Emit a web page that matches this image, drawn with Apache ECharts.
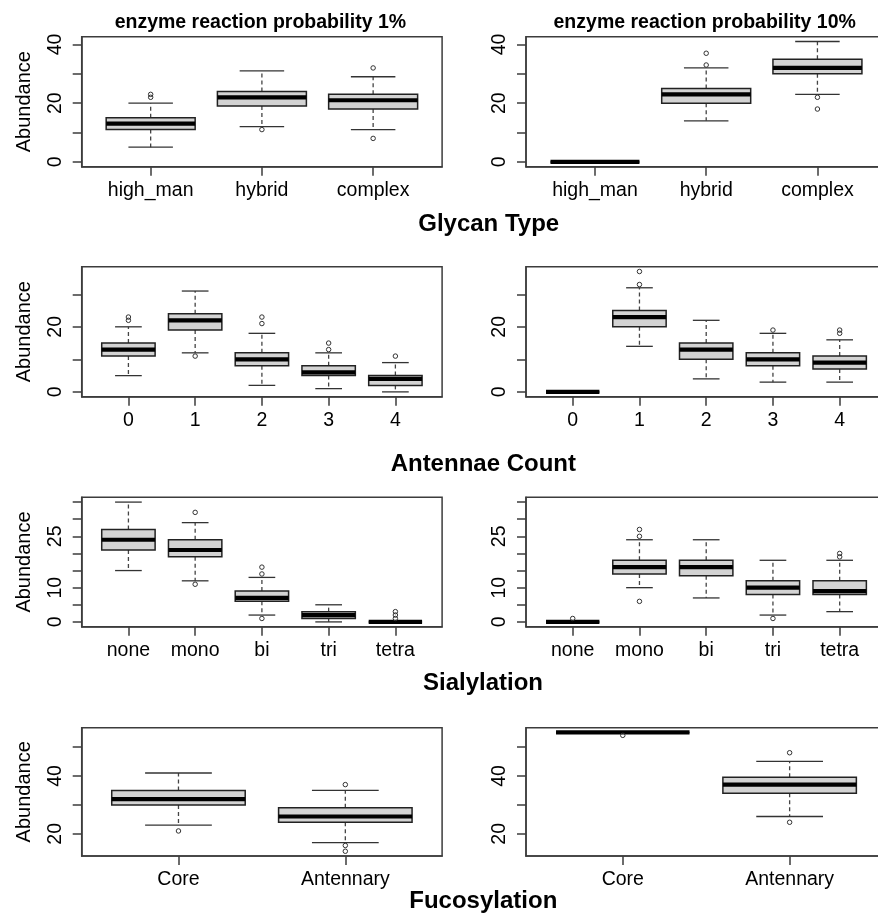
<!DOCTYPE html>
<html><head><meta charset="utf-8">
<script src="https://cdn.jsdelivr.net/npm/echarts@6/dist/echarts.min.js"></script>
<style>html,body{margin:0;padding:0;background:#fff}#c{width:878px;height:913px}</style>
</head><body><div id="c"></div>
<script>
const FONT = '"Liberation Sans", Arial, Helvetica, sans-serif';

const panelTitles = ['enzyme reaction probability 1%', 'enzyme reaction probability 10%'];
const yAxisTitle = 'Abundance';

// box stats: [min whisker, Q1, median, Q3, max whisker]; outliers: [category index (1-based), value]
const glycanTitle = 'Glycan Type';
const glycanCats = ['high_man', 'hybrid', 'complex'];
const glycanStats1 = [[5, 11, 13, 15, 20], [12, 19, 22, 24, 31], [11, 18, 21, 23, 29]];
const glycanOut1 = [[1, 22], [1, 23], [2, 11], [3, 32], [3, 8]];
const glycanStats10 = [[0, 0, 0, 0, 0], [14, 20, 23, 25, 32], [23, 30, 32, 35, 41]];
const glycanOut10 = [[2, 37], [2, 33], [3, 22], [3, 18]];
const glycanTicks = [0, 10, 20, 30, 40];
const glycanLabels = [0, 20, 40];

const antennaeTitle = 'Antennae Count';
const antennaeCats = ['0', '1', '2', '3', '4'];
const antennaeStats1 = [[5, 11, 13, 15, 20], [12, 19, 22, 24, 31], [2, 8, 10, 12, 18], [1, 5, 6, 8, 12], [0, 2, 4, 5, 9]];
const antennaeOut1 = [[1, 22], [1, 23], [2, 11], [3, 21], [3, 23], [4, 13], [4, 15], [5, 11]];
const antennaeStats10 = [[0, 0, 0, 0, 0], [14, 20, 23, 25, 32], [4, 10, 13, 15, 22], [3, 8, 10, 12, 18], [3, 7, 9, 11, 16]];
const antennaeOut10 = [[2, 33], [2, 37], [4, 19], [5, 18], [5, 19]];
const antennaeTicks = [0, 10, 20, 30];
const antennaeLabels = [0, 20];

const sialTitle = 'Sialylation';
const sialCats = ['none', 'mono', 'bi', 'tri', 'tetra'];
const sialStats1 = [[15, 21, 24, 27, 35], [12, 19, 21, 24, 29], [2, 6, 7, 9, 13], [0, 1, 2, 3, 5], [0, 0, 0, 0, 0]];
const sialOut1 = [[2, 32], [2, 11], [3, 14], [3, 16], [3, 1], [5, 1], [5, 2], [5, 3]];
const sialStats10 = [[0, 0, 0, 0, 0], [10, 14, 16, 18, 24], [7, 13.5, 16, 18, 24], [2, 8, 10, 12, 18], [3, 8, 9, 12, 18]];
const sialOut10 = [[1, 1], [2, 27], [2, 25], [2, 6], [4, 1], [5, 20], [5, 19]];
const sialTicks = [0, 5, 10, 15, 20, 25, 30, 35];
const sialLabels = [0, 10, 25];

const fucTitle = 'Fucosylation';
const fucCats = ['Core', 'Antennary'];
const fucStats1 = [[23, 30, 32, 35, 41], [17, 24, 26, 29, 35]];
const fucOut1 = [[1, 21], [2, 37], [2, 16], [2, 14]];
const fucStats10 = [[55, 55, 55, 55, 55], [26, 34, 37, 39.5, 45]];
const fucOut10 = [[1, 54], [2, 48], [2, 24]];
const fucTicks = [20, 30, 40, 50];
const fucLabels = [20, 40];

const rows = [
  { group: glycanTitle, cats: glycanCats, stats: [glycanStats1, glycanStats10], out: [glycanOut1, glycanOut10], ticks: glycanTicks, labels: glycanLabels },
  { group: antennaeTitle, cats: antennaeCats, stats: [antennaeStats1, antennaeStats10], out: [antennaeOut1, antennaeOut10], ticks: antennaeTicks, labels: antennaeLabels },
  { group: sialTitle, cats: sialCats, stats: [sialStats1, sialStats10], out: [sialOut1, sialOut10], ticks: sialTicks, labels: sialLabels },
  { group: fucTitle, cats: fucCats, stats: [fucStats1, fucStats10], out: [fucOut1, fucOut10], ticks: fucTicks, labels: fucLabels }
];

// layout (pixels)
const colLeft = [81.7, 526];
const colWidth = 360.4;
const rowTop = [36.7, 266.7, 497.3, 727.7];
const rowHeight = [130, 130, 129.4, 128.3];
const groupX = [488.7, 483.3, 483, 483.3];
const groupY = [224, 464, 683.5, 901.5];
const titleY = 22.5;

const LINE = '#3c3c3c';

function renderBox(params, api) {
  const x = api.value(0);
  const mn = api.value(1), q1 = api.value(2), md = api.value(3), q3 = api.value(4), mx = api.value(5);
  const px = v => api.coord([v, md])[0];
  const py = v => api.coord([x, v])[1];
  const xl = px(x - 0.4), xr = px(x + 0.4), xc = px(x), sl = px(x - 0.2), sr = px(x + 0.2);
  const yMin = py(mn), yQ1 = py(q1), yMd = py(md), yQ3 = py(q3), yMax = py(mx);
  const wStyle = { stroke: '#444', lineWidth: 1.3, lineDash: [4, 3], fill: null };
  const sStyle = { stroke: '#333', lineWidth: 1.3, fill: null };
  return {
    type: 'group', children: [
      { type: 'line', shape: { x1: xc, y1: yQ3, x2: xc, y2: yMax }, style: wStyle },
      { type: 'line', shape: { x1: xc, y1: yQ1, x2: xc, y2: yMin }, style: wStyle },
      { type: 'line', shape: { x1: sl, y1: yMax, x2: sr, y2: yMax }, style: sStyle },
      { type: 'line', shape: { x1: sl, y1: yMin, x2: sr, y2: yMin }, style: sStyle },
      { type: 'rect', shape: { x: xl, y: yQ3, width: xr - xl, height: yQ1 - yQ3 }, style: { fill: '#d3d3d3', stroke: '#222', lineWidth: 1.5 } },
      { type: 'line', shape: { x1: xl, y1: yMd, x2: xr, y2: yMd }, style: { stroke: '#000', lineWidth: 4.2, fill: null } }
    ]
  };
}

const grid = [], xAxis = [], yAxis = [], series = [], graphic = [];

rows.forEach((row, r) => {
  const n = row.cats.length;
  let lo = Infinity, hi = -Infinity;
  [0, 1].forEach(c => {
    row.stats[c].forEach(s => s.forEach(v => { lo = Math.min(lo, v); hi = Math.max(hi, v); }));
    row.out[c].forEach(o => { lo = Math.min(lo, o[1]); hi = Math.max(hi, o[1]); });
  });
  const pad = (hi - lo) * 0.04;
  const xTicks = row.cats.map((_, i) => i + 1);
  [0, 1].forEach(c => {
    const g = grid.length;
    grid.push({
      left: colLeft[c], top: rowTop[r], width: colWidth, height: rowHeight[r],
      show: true, borderColor: LINE, borderWidth: 1.5, backgroundColor: 'transparent',
      containLabel: false, outerBoundsMode: 'none'
    });
    xAxis.push({
      type: 'value', gridIndex: g,
      min: 0.5 - 0.04 * n, max: n + 0.5 + 0.04 * n,
      splitLine: { show: false },
      axisLine: { show: true, onZero: false, lineStyle: { color: LINE, width: 1.5 } },
      axisTick: { show: true, customValues: xTicks, length: 9, lineStyle: { color: LINE, width: 1.5 } },
      axisLabel: {
        show: true, customValues: xTicks, formatter: v => row.cats[Math.round(v) - 1],
        margin: 13.5, color: '#000', fontSize: 19.5, fontFamily: FONT
      }
    });
    yAxis.push({
      type: 'value', gridIndex: g,
      min: lo - pad, max: hi + pad,
      name: c === 0 ? yAxisTitle : '',
      nameLocation: 'middle', nameRotate: 90, nameGap: 47, nameMoveOverlap: false,
      nameTextStyle: { color: '#000', fontSize: 20, fontFamily: FONT },
      splitLine: { show: false },
      axisLine: { show: true, onZero: false, lineStyle: { color: LINE, width: 1.5 } },
      axisTick: { show: true, customValues: row.ticks, length: 9, lineStyle: { color: LINE, width: 1.5 } },
      axisLabel: {
        show: true, customValues: row.labels, rotate: 90, margin: 16,
        color: '#000', fontSize: 19.5, fontFamily: FONT
      }
    });
    series.push({
      type: 'custom', xAxisIndex: g, yAxisIndex: g, silent: true, clip: false,
      renderItem: renderBox,
      encode: { x: 0, y: [1, 2, 3, 4, 5] },
      data: row.stats[c].map((s, i) => [i + 1].concat(s))
    });
    series.push({
      type: 'scatter', xAxisIndex: g, yAxisIndex: g, silent: true,
      symbol: 'circle', symbolSize: 4.5,
      itemStyle: { color: 'rgba(0,0,0,0)', borderColor: '#333', borderWidth: 1, opacity: 1 },
      data: row.out[c].map(o => [o[0], o[1]])
    });
    if (r === 0) {
      graphic.push({
        type: 'text', x: colLeft[c] + colWidth / 2 - 1.5, y: titleY,
        style: { text: panelTitles[c], fontSize: 19.5, fontWeight: 'bold', fontFamily: FONT, fill: '#000', align: 'center', verticalAlign: 'middle' }
      });
    }
  });
  graphic.push({
    type: 'text', x: groupX[r], y: groupY[r],
    style: { text: row.group, fontSize: 24, fontWeight: 'bold', fontFamily: FONT, fill: '#000', align: 'center', verticalAlign: 'middle' }
  });
});

const chart = echarts.init(document.getElementById('c'), null, { renderer: 'canvas' });
chart.setOption({
  animation: false,
  backgroundColor: '#fff',
  grid, xAxis, yAxis, series, graphic
});
</script></body></html>
